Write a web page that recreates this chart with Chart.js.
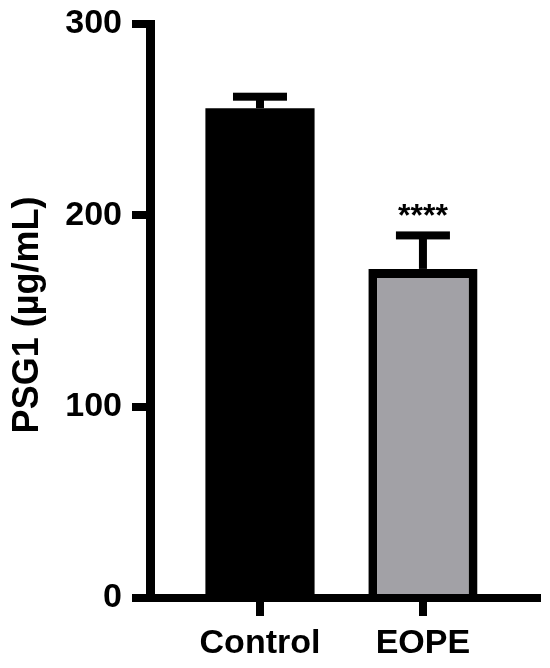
<!DOCTYPE html>
<html>
<head>
<meta charset="utf-8">
<script src="https://cdn.jsdelivr.net/npm/chart.js@4"></script>
<style>
  html, body { margin: 0; padding: 0; background: #fff; }
  #wrap { width: 550px; height: 668px; }
</style>
</head>
<body>
<div id="wrap"><canvas id="myChart"></canvas></div>
<script>
const groups = ["Control", "EOPE"];
const means = [256, 172];
const sems = [6, 17.5];
const marks = ["", "****"];
const yTicks = [0, 100, 200, 300];
const yTitle = "PSG1 (µg/mL)";

const fam = "'Liberation Sans', Arial, sans-serif";
const font = { family: fam, size: 34, weight: 'bold' };

// error bars + significance stars, drawn from the scales
const errorBars = {
  id: 'errorBars',
  afterDatasetsDraw(chart) {
    const ctx = chart.ctx;
    const xs = chart.scales.x, ys = chart.scales.y;
    ctx.save();
    ctx.fillStyle = '#000';
    means.forEach((m, i) => {
      const x = xs.getPixelForValue(i + 1);
      const yTop = ys.getPixelForValue(m + sems[i]);
      const yBar = ys.getPixelForValue(m);
      ctx.fillRect(x - 4, yTop, 8, yBar - yTop);
      ctx.fillRect(x - 27, yTop - 4, 54, 8);
      if (marks[i]) {
        ctx.font = "bold 32px " + fam;
        ctx.textAlign = 'center';
        ctx.textBaseline = 'alphabetic';
        ctx.fillText(marks[i], x, yTop - 9);
      }
    });
    // y axis title
    ctx.translate(28, (ys.top + ys.bottom) / 2 + 4);
    ctx.rotate(-Math.PI / 2);
    ctx.font = "bold 36px " + fam;
    ctx.textAlign = 'center';
    ctx.textBaseline = 'middle';
    ctx.fillText(yTitle, 0, 0);
    ctx.restore();
  }
};

const ctx = document.getElementById("myChart");
const myChart = new Chart(ctx, {
  type: 'bar',
  data: {
    datasets: [{
      data: means.map((v, i) => ({ x: i + 1, y: v })),
      backgroundColor: ['#000000', '#a2a1a6'],
      borderColor: '#000',
      borderWidth: [0, 9],
      borderSkipped: 'start',
      categoryPercentage: 1,
      barPercentage: 0.67
    }]
  },
  options: {
    responsive: true,
    maintainAspectRatio: false,
    animation: false,
    layout: { padding: { top: 24, right: 13, left: 0, bottom: 0 } },
    plugins: { legend: { display: false }, tooltip: { enabled: false } },
    scales: {
      x: {
        type: 'linear',
        min: 0.325,
        max: 2.7,
        offset: false,
        afterBuildTicks: s => { s.ticks = groups.map((g, i) => ({ value: i + 1 })); },
        afterFit: s => { s.height = 70; s.paddingLeft = 0; s.paddingRight = 0; },
        ticks: { callback: v => groups[v - 1], font: font, color: '#000', padding: 7, autoSkip: false, maxRotation: 0 },
        grid: { offset: false, drawOnChartArea: false, drawTicks: true, tickLength: 18, lineWidth: 8, color: '#000' },
        border: { display: true, width: 8, color: '#000', z: 1 }
      },
      y: {
        min: 0,
        max: 300,
        afterBuildTicks: s => { s.ticks = yTicks.map(v => ({ value: v })); },
        afterFit: s => { s.width = 150; s.paddingTop = 0; s.paddingBottom = 0; },
        ticks: { font: font, color: '#000', padding: 10 },
        grid: { drawOnChartArea: false, drawTicks: true, tickLength: 18, lineWidth: 8, color: '#000' },
        border: { display: true, width: 9, color: '#000', z: 1 }
      }
    }
  },
  plugins: [errorBars]
});
</script>
</body>
</html>
